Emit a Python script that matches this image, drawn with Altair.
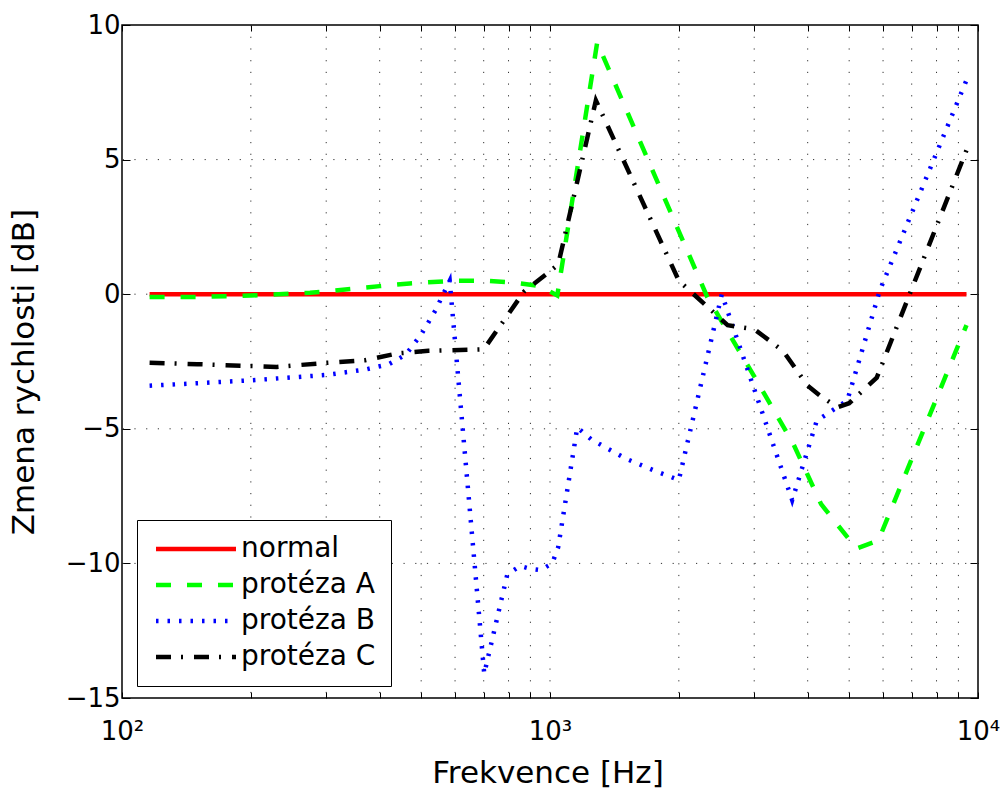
import altair as alt
import pandas as pd

# ---- data ----
series_names = ["normal", "protéza A", "protéza B", "protéza C"]

freq_normal = [116, 9400]
val_normal = [0.0, 0.0]

freq_A = [116, 150, 200, 275, 400, 470, 600, 700, 800, 900, 950, 1040, 1289,
          2330, 3000, 3700, 4300, 5200, 5850, 9400]
val_A = [-0.1, -0.1, -0.05, 0.05, 0.3, 0.4, 0.5, 0.5, 0.45, 0.35, 0.3, -0.05, 9.35,
         -0.1, -3.05, -5.55, -7.8, -9.45, -9.15, -1.15]

freq_B = [116, 200, 300, 370, 420, 460, 500, 540, 583, 702, 795, 852, 900, 950,
          1012, 1045, 1158, 1250, 1500, 1750, 2000, 2520, 3680, 4200, 4950, 5900, 9400]
val_B = [-3.4, -3.2, -3.0, -2.8, -2.6, -2.25, -1.5, -0.6, 0.5, -14.1, -10.4, -10.1, -10.2, -10.25,
         -10.0, -9.4, -4.95, -5.4, -6.1, -6.55, -6.9, 0.0, -7.65, -4.7, -3.95, 0.15, 7.95]

freq_C = [116, 150, 230, 300, 370, 440, 520, 700, 870, 1000, 1045, 1280, 2000,
          2600, 3000, 3500, 4000, 4300, 4700, 5000, 5800, 9400]
val_C = [-2.55, -2.6, -2.7, -2.55, -2.45, -2.2, -2.1, -2.05, 0.1, 0.85, 1.1, 7.2, 0.5,
         -1.15, -1.3, -2.1, -3.4, -3.8, -4.2, -4.05, -3.1, 5.35]

x_ticks = [100, 200, 300, 400, 500, 600, 700, 800, 900,
           1000, 2000, 3000, 4000, 5000, 6000, 7000, 8000, 9000, 10000]
x_grid = [200, 300, 400, 500, 600, 700, 800, 900,
          1000, 2000, 3000, 4000, 5000, 6000, 7000, 8000, 9000]
y_ticks = [-15, -10, -5, 0, 5, 10]
y_grid = [-10, -5, 0, 5]

colors = ["#ff0000", "#00ff00", "#0000ff", "#000000"]
dashes = [[1, 0], [15, 16], [2.5, 9], [15, 10, 2, 11]]
widths = [4.5, 4.5, 1.8, 4.5]

rows = []
for name, fs, vs in zip(series_names, [freq_normal, freq_A, freq_B, freq_C],
                        [val_normal, val_A, val_B, val_C]):
    for i, (f, v) in enumerate(zip(fs, vs)):
        rows.append({"s": name, "f": f, "v": v, "i": i})
df = pd.DataFrame(rows)

FONT = "DejaVu Sans"
xscale = alt.Scale(type="log", domain=[100, 10000], nice=False)
yscale = alt.Scale(domain=[-15, 10], nice=False, zero=False)

grid_style = dict(color="#333333", strokeDash=[1.2, 10.5], strokeWidth=1)

vgrid = alt.Chart(pd.DataFrame({"g": x_grid})).mark_rule(**grid_style).encode(
    x=alt.X("g:Q", scale=xscale, title=None,
            axis=alt.Axis(orient="top", values=x_ticks, labels=False, grid=False,
                          domain=False, tickSize={"expr": "-6"}, tickColor="black",
                          tickWidth=1))
)

hgrid = alt.Chart(pd.DataFrame({"h": y_grid})).mark_rule(**grid_style).encode(
    y=alt.Y("h:Q", scale=yscale, title=None,
            axis=alt.Axis(orient="right", values=y_ticks, labels=False, grid=False,
                          domain=False, tickSize={"expr": "-8"}, tickColor="black",
                          tickWidth=1))
)

label_expr = ("datum.value == 100 ? '10²' : datum.value == 1000 ? '10³' : "
              "datum.value == 10000 ? '10⁴' : ''")

lines = alt.Chart(df).mark_line(clip=True).encode(
    x=alt.X("f:Q", scale=xscale, title="Frekvence [Hz]",
            axis=alt.Axis(orient="bottom", values=x_ticks, labelExpr=label_expr,
                          grid=False, domain=False, tickSize={"expr": "-6"},
                          tickColor="black", tickWidth=1, labelFlush=False,
                          labelOverlap=False, labelFont=FONT, labelFontSize=26,
                          labelColor="black", labelBaseline="alphabetic",
                          labelPadding=47, titleFont=FONT, titleFontSize=31,
                          titleFontWeight="normal", titleColor="black",
                          titleX=425.5, titleY=84, titleBaseline="alphabetic",
                          titleAlign="center")),
    y=alt.Y("v:Q", scale=yscale, title="Zmena rychlosti [dB]",
            axis=alt.Axis(orient="left", values=y_ticks, grid=False, domain=False,
                          tickSize={"expr": "-8"}, tickColor="black", tickWidth=1,
                          labelFlush=False, labelOverlap=False, labelFont=FONT,
                          labelFontSize=26, labelColor="black", labelPadding=10,
                          labelBaseline="middle", titleFont=FONT, titleFontSize=31,
                          titleFontWeight="normal", titleColor="black",
                          titleAngle=270, titleX=-89, titleY=346.5,
                          titleBaseline="alphabetic", titleAlign="center")),
    color=alt.Color("s:N", title=None,
                    scale=alt.Scale(domain=series_names, range=colors),
                    legend=alt.Legend(orient="none", legendX=15, legendY=495,
                                      padding=15, strokeColor="black",
                                      fillColor="white", labelFont=FONT,
                                      labelFontSize=28, labelColor="black",
                                      symbolType="M-2,0H14", symbolSize=100,
                                      labelOffset=61, rowPadding=8,
                                      labelLimit=400)),
    strokeDash=alt.StrokeDash("s:N", title=None,
                              scale=alt.Scale(domain=series_names, range=dashes)),
    strokeWidth=alt.StrokeWidth("s:N", title=None,
                                scale=alt.Scale(domain=series_names, range=widths)),
    order=alt.Order("i:Q"),
)

chart = alt.layer(vgrid, hgrid, lines).resolve_axis(
    x="independent", y="independent"
).properties(
    width=856, height=673,
    padding={"left": 122, "top": 25, "right": 26, "bottom": 91},
    autosize=alt.AutoSizeParams(type="none"),
    background="white",
).configure_view(stroke="black", strokeWidth=1.5)

chart.save("out.html", embed_options={"renderer": "svg", "actions": False})
